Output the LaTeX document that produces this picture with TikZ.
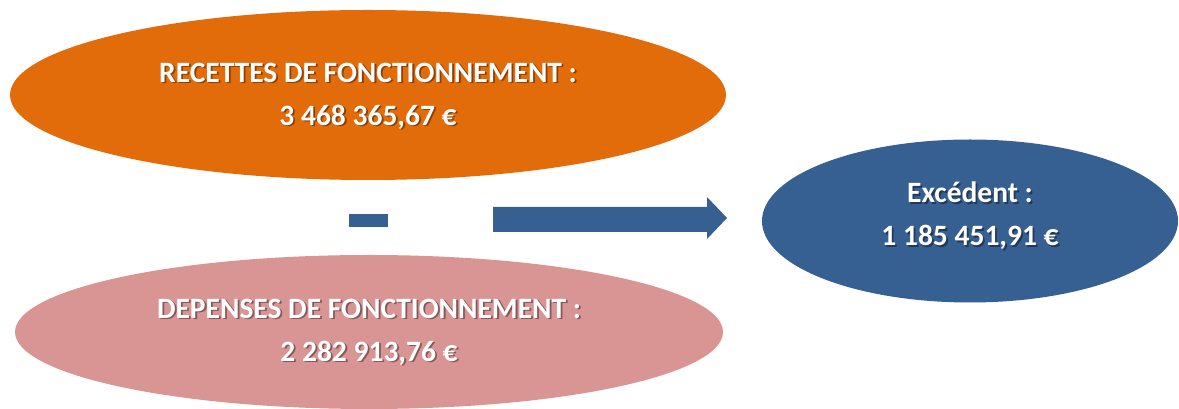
\documentclass[tikz,border=0pt]{standalone}
\usepackage{fontspec}
\setmainfont{Carlito}
\usetikzlibrary{shapes.geometric}
\definecolor{orangeE}{HTML}{E36C0A}
\definecolor{pinkE}{HTML}{D99594}
\definecolor{blueE}{HTML}{376092}
\begin{document}
\begin{tikzpicture}[x=1pt,y=1pt,
  ell/.style={ellipse,inner sep=0pt,draw=none},
  lbl/.style={text=white,font=\bfseries\fontsize{29.5}{43}\selectfont,align=center,inner sep=0pt},
  shd/.style={text=black,opacity=0.4,font=\bfseries\fontsize{29.5}{43}\selectfont,align=center,inner sep=0pt}]
\useasboundingbox (0,0) rectangle (1179,409);
\clip (0,0) rectangle (1179,409);
\node[ell,fill=orangeE,minimum width=716pt,minimum height=170pt] (rec) at (368,314) {};
\node[ell,fill=pinkE,minimum width=708pt,minimum height=154pt] (dep) at (369,77) {};
\node[ell,fill=blueE,minimum width=416pt,minimum height=163pt] (exc) at (970,188) {};
\node[fill=blueE,minimum width=39pt,minimum height=13pt,inner sep=0pt] (minus) at (368.5,188.5) {};
\fill[blueE] (493,202) -- (707,202) -- (707,212) -- (727,191) -- (707,170) -- (707,177) -- (493,177) -- cycle;
\foreach \n/\dy/\t in {rec/-1/{RECETTES DE FONCTIONNEMENT :\\3 468 365,67 €},dep/0/{DEPENSES DE FONCTIONNEMENT :\\2 282 913,76 €},exc/5/{Excédent :\\1 185 451,91 €}}{
  \node[shd] at ([shift={(1.8,\dy-1.8)}]\n.center) {\t};
  \node[lbl] (\n-t) at ([yshift=\dy]\n.center) {\t};
}
\end{tikzpicture}
\end{document}
